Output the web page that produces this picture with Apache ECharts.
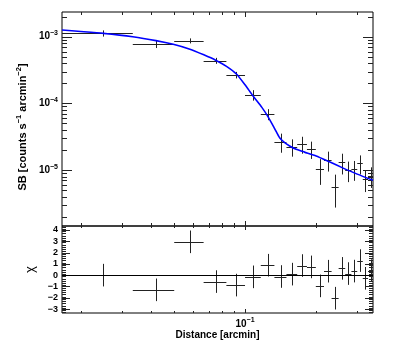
<!DOCTYPE html>
<html>
<head>
<meta charset="utf-8">
<script src="https://cdn.jsdelivr.net/npm/echarts@6/dist/echarts.min.js"></script>
<style>
  html, body { margin: 0; padding: 0; background: #fff; }
  #main { width: 415px; height: 348px; }
</style>
</head>
<body>
<div id="main"></div>
<script>
// radial bins, 1 arcsec wide (values in arcmin)
var binEdges = [0.01667, 0.03333, 0.05, 0.06667, 0.08333, 0.1, 0.11667, 0.13333, 0.15, 0.16667,
                0.18333, 0.2, 0.21667, 0.23333, 0.25, 0.26667, 0.28333, 0.3, 0.31667, 0.33333, 0.35];

// surface brightness [counts s^-1 arcmin^-2] and its error
var sbValues = [1.125e-3, 7.77e-4, 8.7e-4, 4.37e-4, 2.67e-4, 1.34e-4, 6.9e-5, 2.67e-5, 2.24e-5, 2.46e-5,
                2.07e-5, 1.03e-5, 1.42e-5, 5.64e-6, 1.31e-5, 1.0e-5, 1.03e-5, 1.26e-5, 7.28e-6, 8.2e-6];
var sbErrors = [1.2e-4, 1.0e-4, 7.5e-5, 4.5e-5, 3.0e-5, 2.4e-5, 1.3e-5, 8.5e-6, 6.5e-6, 7.0e-6,
                6.0e-6, 4.3e-6, 4.7e-6, 2.9e-6, 4.5e-6, 3.4e-6, 3.4e-6, 4.0e-6, 2.6e-6, 2.8e-6];

// residuals (chi), error is 1
var chiValues = [0.0, -1.3, 2.95, -0.57, -0.88, -0.15, 0.88, -0.12, 0.09, 0.85,
                 0.73, -0.95, 0.35, -2.04, 0.6, 0.14, 0.36, 1.29, -0.28, 0.4];
var chiError = 1;

// fitted model
var modelX = [0.01667, 0.02, 0.025, 0.0333, 0.0418, 0.0495, 0.0583, 0.0668, 0.075, 0.0834, 0.0919,
              0.1, 0.108, 0.1177, 0.125, 0.1336, 0.1403, 0.147, 0.1547, 0.165, 0.179, 0.2006,
              0.2284, 0.26, 0.3, 0.35];
var modelY = [1.26e-3, 1.2e-3, 1.125e-3, 1.0e-3, 8.75e-4, 7.7e-4, 6.5e-4, 5.35e-4, 4.45e-4, 3.6e-4, 2.76e-4,
              1.9e-4, 1.3e-4, 8.8e-5, 6.4e-5, 4.2e-5, 3.05e-5, 2.6e-5, 2.3e-5, 2.05e-5, 1.86e-5, 1.63e-5,
              1.33e-5, 1.08e-5, 8.7e-6, 7.05e-6];

// axis ticks
var xMajorTicks = [0.1];
var xMinorTicks = [0.02, 0.03, 0.04, 0.05, 0.06, 0.07, 0.08, 0.09, 0.2, 0.3];
var yMajorTicks = [1e-5, 1e-4, 1e-3];
var yMinorTicks = [];
[1e-6, 1e-5, 1e-4, 1e-3].forEach(function (d) {
  for (var k = 2; k <= 9; k++) yMinorTicks.push(k * d);
});
var chiMajorTicks = [-3, -2, -1, 0, 1, 2, 3, 4];
var chiMinorTicks = [];
for (var c = -33; c <= 43; c += 2) {
  if (c % 10 !== 0) chiMinorTicks.push(c / 10);
}

var X_MIN = 1 / 60, X_MAX = 21 / 60;
var Y_MIN = 1.45e-6, Y_MAX = 2.35e-3;
var CHI_MIN = -3.35, CHI_MAX = 4.35;

var FONT = 'Liberation Sans';
var INK = '#222';

var chart = echarts.init(document.getElementById('main'), null, { renderer: 'canvas' });

function sup(v) {
  var e = Math.round(Math.log10(v));
  return '{b|10}{s|' + (e < 0 ? '\u2212' + (-e) : e) + '}';
}

var powRich = {
  b: { fontSize: 10, fontWeight: 'bold', fontFamily: FONT, color: '#000' },
  s: { fontSize: 7, fontWeight: 'bold', fontFamily: FONT, color: '#000', padding: [0, 0, 7, 0] }
};

function hline(x1, x2, y) {
  y = Math.round(y) + 0.5;
  return { type: 'line', shape: { x1: x1, y1: y, x2: x2, y2: y }, style: { stroke: INK, lineWidth: 1 } };
}
function vline(x, y1, y2) {
  x = Math.round(x) + 0.5;
  return { type: 'line', shape: { x1: x, y1: y1, x2: x, y2: y2 }, style: { stroke: INK, lineWidth: 1 } };
}

// tick marks on all four sides of a panel
function tickRenderer(xMaj, xMin, yMaj, yMin, refX, refY, lens) {
  return function (params, api) {
    var cs = params.coordSys;
    var top = cs.y, bot = cs.y + cs.height, left = cs.x, right = cs.x + cs.width;
    var kids = [];
    function xt(v, len) {
      var p = api.coord([v, refY])[0];
      kids.push(vline(p, bot, bot - len));
      kids.push(vline(p, top, top + len));
    }
    function yt(v, len) {
      var p = api.coord([refX, v])[1];
      if (p < top - 0.5 || p > bot + 0.5) return;
      kids.push(hline(left, left + len, p));
      kids.push(hline(right, right - len, p));
    }
    xMaj.forEach(function (v) { xt(v, lens[0]); });
    xMin.forEach(function (v) { xt(v, lens[1]); });
    yMaj.forEach(function (v) { yt(v, lens[2]); });
    yMin.forEach(function (v) { yt(v, lens[3]); });
    return { type: 'group', children: kids };
  };
}

function errRenderer(params, api) {
  var c = api.coord([api.value(0), api.value(1)]);
  var xl = api.coord([api.value(2), api.value(1)])[0];
  var xh = api.coord([api.value(3), api.value(1)])[0];
  var yl = api.coord([api.value(0), api.value(4)])[1];
  var yh = api.coord([api.value(0), api.value(5)])[1];
  return {
    type: 'group',
    children: [hline(xl, xh, c[1]), vline(c[0], yl, yh)]
  };
}

var sbRows = sbValues.map(function (v, i) {
  var lo = binEdges[i], hi = binEdges[i + 1];
  return [(lo + hi) / 2, v, lo, hi, v - sbErrors[i], v + sbErrors[i]];
});
var chiRows = chiValues.map(function (v, i) {
  var lo = binEdges[i], hi = binEdges[i + 1];
  return [(lo + hi) / 2, v, lo, hi, v - chiError, v + chiError];
});
var modelData = modelX.map(function (x, i) { return [x, modelY[i]]; });

var hidden = {
  axisLine: { show: false }, axisTick: { show: false }, splitLine: { show: false }
};

option = {
  animation: false,
  backgroundColor: '#fff',
  grid: [
    { left: 62, top: 12, width: 311, height: 214, show: true, borderColor: '#000', borderWidth: 1, backgroundColor: 'transparent' },
    { left: 62, top: 226, width: 311, height: 87, show: true, borderColor: '#000', borderWidth: 1, backgroundColor: 'transparent' }
  ],
  xAxis: [
    Object.assign({ type: 'log', gridIndex: 0, min: X_MIN, max: X_MAX, axisLabel: { show: false } }, hidden),
    Object.assign({
      type: 'log', gridIndex: 1, min: X_MIN, max: X_MAX,
      axisLabel: { formatter: sup, rich: powRich, margin: 4, showMinLabel: false, showMaxLabel: false },
      name: 'Distance [arcmin]', nameLocation: 'middle', nameGap: 17,
      nameTextStyle: { fontFamily: FONT, fontWeight: 'bold', fontSize: 10, color: '#000' }
    }, hidden)
  ],
  yAxis: [
    Object.assign({
      type: 'log', gridIndex: 0, min: Y_MIN, max: Y_MAX,
      axisLabel: { formatter: sup, rich: powRich, margin: 4, showMinLabel: false, showMaxLabel: false },
      name: '{t|SB [counts s}{u|\u22121}{t| arcmin}{u|\u22122}{t|]}',
      nameLocation: 'middle', nameRotate: 90, nameGap: 29,
      nameTextStyle: {
        padding: [0, 16, 0, 0],
        rich: {
          t: { fontFamily: FONT, fontWeight: 'bold', fontSize: 11, color: '#000' },
          u: { fontFamily: FONT, fontWeight: 'bold', fontSize: 7.5, color: '#000', padding: [0, 0, 7, 0] }
        }
      }
    }, hidden),
    Object.assign({
      type: 'value', gridIndex: 1, min: CHI_MIN, max: CHI_MAX, minInterval: 1, maxInterval: 1,
      axisLabel: {
        margin: 4, showMinLabel: false, showMaxLabel: false,
        fontFamily: FONT, fontWeight: 'bold', fontSize: 9, color: '#000',
        formatter: function (v) { return v < 0 ? '\u2212' + (-v) : String(v); }
      },
      name: 'χ', nameLocation: 'middle', nameRotate: 90, nameGap: 23,
      nameTextStyle: { fontFamily: FONT, fontSize: 13, color: '#000' }
    }, hidden)
  ],
  series: [
    {
      type: 'custom', xAxisIndex: 0, yAxisIndex: 0, silent: true, z: 1,
      renderItem: tickRenderer(xMajorTicks, xMinorTicks, yMajorTicks, yMinorTicks, 0.1, 1e-4, [5, 3, 10, 5]),
      data: [[xMajorTicks[0], yMajorTicks[1]]]
    },
    {
      type: 'custom', xAxisIndex: 1, yAxisIndex: 1, silent: true, z: 1,
      renderItem: tickRenderer(xMajorTicks, xMinorTicks, chiMajorTicks, chiMinorTicks, 0.1, 0, [4, 2, 8, 4]),
      data: [[xMajorTicks[0], 0]]
    },
    {
      type: 'custom', xAxisIndex: 0, yAxisIndex: 0, silent: true, z: 2,
      renderItem: errRenderer, encode: { x: 0, y: 1 }, data: sbRows
    },
    {
      type: 'line', xAxisIndex: 0, yAxisIndex: 0, silent: true, z: 3,
      data: modelData, showSymbol: false, smooth: 0.2,
      lineStyle: { color: '#0000ff', width: 1.6 }
    },
    {
      type: 'custom', xAxisIndex: 1, yAxisIndex: 1, silent: true, z: 2,
      renderItem: errRenderer, encode: { x: 0, y: 1 }, data: chiRows
    },
    {
      type: 'scatter', xAxisIndex: 1, yAxisIndex: 1, silent: true, symbolSize: 0,
      data: chiRows.map(function (r) { return [r[0], r[1]]; }),
      markLine: {
        silent: true, symbol: 'none', label: { show: false },
        lineStyle: { color: '#000', width: 1, type: 'solid' },
        data: [{ yAxis: 0 }]
      }
    }
  ]
};

chart.setOption(option);
</script>
</body>
</html>
